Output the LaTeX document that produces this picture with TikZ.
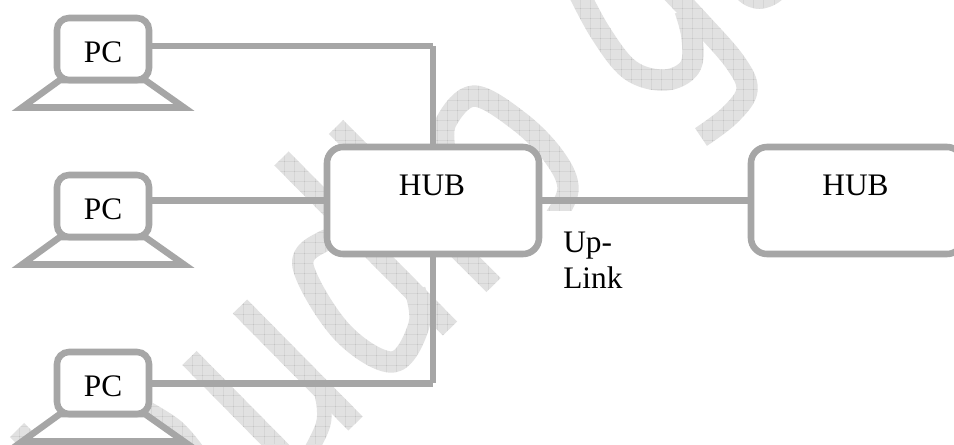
\documentclass[tikz,border=0pt]{standalone}
\usepackage{fontspec}
\setmainfont{Liberation Serif}
\tikzset{
  wm/.style={draw=wmgrey,line width=15pt,line join=round},
  wmc/.style={wm,line width=16pt},
  boxline/.style={draw=netgrey,line width=4.9pt,fill=white,rounded corners=9pt},
  pcbox/.style={boxline,minimum width=69pt,minimum height=46.5pt},
  hubbox/.style={boxline,rounded corners=12pt,minimum width=159pt,minimum height=80.25pt},
  pcbase/.style={draw=netgrey,line width=4.9pt,fill=white,miter limit=20},
  wire/.style={draw=netgrey,line width=4.9pt},
  lab/.style={font=\fontsize{23.5}{27}\selectfont,inner sep=0pt,anchor=base,text=black}
}
\definecolor{netgrey}{HTML}{A6A6A6}
\definecolor{wmgrey}{HTML}{E1E1E1}
\begin{document}
\begin{tikzpicture}[x=0.75pt,y=-0.75pt]
\useasboundingbox (0,0) rectangle (954,444);
\clip (0,0) rectangle (954,444);
\fill[white] (0,0) rectangle (954,444);
% watermark
\draw[wm] (240,306.5) -- (355.5,423.5);
\draw[wm] (189.5,358) -- (305,475);
\draw[wm] (281.5,158.5) -- (450,328.5);
\draw[wm] (336,127) -- (493.5,285);
\draw[wm] (17,430) -- (50,463);
\draw[wmc] plot[smooth,tension=0.6] coordinates {(140,408) (175,430) (200,460)};
\draw[wm,line width=11pt] plot[smooth,tension=0.6] coordinates {(322,395) (323,425) (300,470)};
\draw[wmc] plot[smooth,tension=0.6] coordinates {(345,240) (324,241) (303,266) (342,332) (393,362) (419,325) (415,290)};
\begin{scope}
\clip (0,0) rectangle (954,210);
\draw[wmc] plot[smooth,tension=0.6] coordinates {(445,150) (446,122) (474,96) (520,122) (555,158) (568,190) (552,222)};
\end{scope}
\draw[wmc] plot[smooth,tension=0.6] coordinates {(575,-15) (600,32) (630,70) (665,80) (690,67) (692,37) (685,10)};
\draw[wmc] plot[smooth,tension=0.6] coordinates {(665,-15) (700,22) (735,62) (747,90) (730,115) (701,137)};
\fill[wmgrey] (737,-1) .. controls (750,12) and (768,12) .. (783,-1) -- cycle;
% watermark grid: burns only where the watermark is
\begin{scope}[blend mode=color burn]
\foreach \i in {0,...,93}{
  \draw[gray!60,line width=0.45pt] (8.9+10.2*\i,0) -- (8.9+10.2*\i,444);
}
\foreach \i in {0,...,43}{
  \draw[gray!60,line width=0.45pt] (0,8.1+10.2*\i) -- (954,8.1+10.2*\i);
}
\end{scope}
% junctions
\coordinate (jt) at (433,46);
\coordinate (jb) at (433,383.3);
% hubs
\node[hubbox] (hub1) at (433,200.5) {};
\node[hubbox] (hub2) at (857,200.5) {};
\node[lab] (hub1txt) at (432,195) {HUB};
\node[lab] (hub2txt) at (855.5,195) {HUB};
% PCs
\foreach \n/\dy in {1/0,2/157,3/334}{
  \draw[pcbase] (60,80+\dy) -- (22,107.5+\dy) -- (184,107.5+\dy) -- (145,80+\dy) -- cycle;
  \node[pcbox] (pc\n) at (103,49+\dy) {};
  \node[lab] (pc\n txt) at (103,62+\dy) {PC};
}
% connectors
\draw[wire] (pc1.east|-jt) -- (jt);
\draw[wire] (jt) -- (jt|-hub1.north);
\draw[wire] (pc2.east|-hub1.west) -- (hub1.west);
\draw[wire] (jb|-hub1.south) -- (jb);
\draw[wire] (pc3.east|-jb) -- (jb);
\draw[wire] (hub1.east) -- (hub2.west);
% label
\node[font=\fontsize{23.5}{27}\selectfont,inner sep=0pt,align=left,anchor=base west] (uplink) at (563,288) {Up-\\Link};
\end{tikzpicture}
\end{document}
